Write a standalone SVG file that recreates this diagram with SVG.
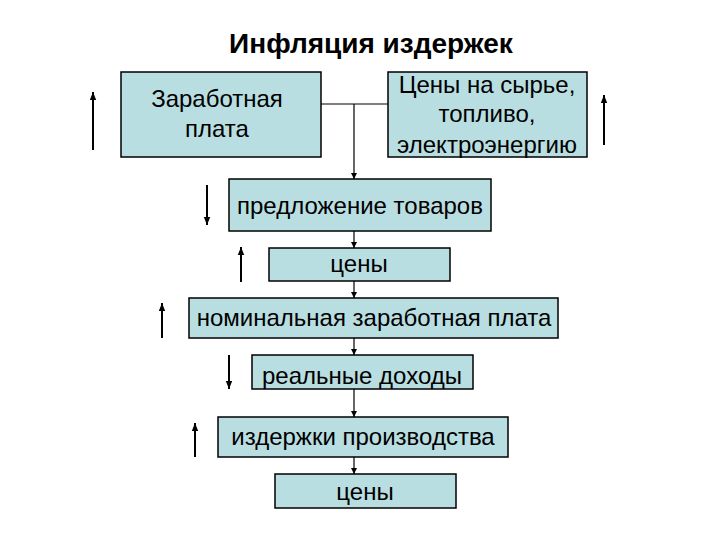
<svg xmlns="http://www.w3.org/2000/svg" width="720" height="540" viewBox="0 0 720 540">
<defs>
<marker id="ah" viewBox="0 0 10 10" refX="10" refY="5" markerWidth="6" markerHeight="6" markerUnits="userSpaceOnUse" orient="auto">
<path d="M0,0 L10,5 L0,10 z" fill="#000"/>
</marker>
<marker id="ah2" viewBox="0 0 10 10" refX="10" refY="5" markerWidth="8" markerHeight="8" markerUnits="userSpaceOnUse" orient="auto">
<path d="M0,1 L10,5 L0,9 z" fill="#000"/>
</marker>
</defs>
<style>
.box{fill:#b9dee1;stroke:#000;stroke-width:1.5}
.t{font-family:"Liberation Sans",Arial,sans-serif;font-size:24px;fill:#000;text-anchor:middle}
.title{font-family:"Liberation Sans",Arial,sans-serif;font-size:28px;font-weight:bold;fill:#000;text-anchor:middle}
.c{stroke:#000;stroke-width:1.2;fill:none}
.s{stroke:#000;stroke-width:2;fill:none}
</style>
<rect width="720" height="540" fill="#fff"/>
<text class="title" x="371" y="53">Инфляция издержек</text>
<g id="n1"><rect class="box" x="121" y="72" width="200" height="85"/><text class="t" x="217" y="107">Заработная</text><text class="t" x="217" y="137">плата</text></g>
<g id="n2"><rect class="box" x="388" y="72" width="199" height="85"/><text class="t" x="487" y="93">Цены на сырье,</text><text class="t" x="487" y="122">топливо,</text><text class="t" x="487" y="153">электроэнергию</text></g>
<g id="n3"><rect class="box" x="229" y="179" width="262" height="52"/><text class="t" x="360" y="214">предложение товаров</text></g>
<g id="n4"><rect class="box" x="269" y="248" width="181" height="33"/><text class="t" x="359" y="272">цены</text></g>
<g id="n5"><rect class="box" x="189" y="298" width="369" height="40"/><text class="t" x="374" y="326">номинальная заработная плата</text></g>
<g id="n6"><rect class="box" x="252" y="355" width="221" height="34"/><text class="t" x="362" y="384">реальные доходы</text></g>
<g id="n7"><rect class="box" x="218" y="417" width="290" height="40"/><text class="t" x="363" y="445">издержки производства</text></g>
<g id="n8"><rect class="box" x="275" y="474" width="181" height="34"/><text class="t" x="365" y="500">цены</text></g>
<g id="connectors">
<path class="c" d="M321,104 H388"/>
<path class="c" d="M354,104 V179" marker-end="url(#ah)"/>
<path class="c" d="M354,231 V248" marker-end="url(#ah)"/>
<path class="c" d="M354,281 V298" marker-end="url(#ah)"/>
<path class="c" d="M354,338 V355" marker-end="url(#ah)"/>
<path class="c" d="M354,389 V417" marker-end="url(#ah)"/>
<path class="c" d="M354,457 V474" marker-end="url(#ah)"/>
<path class="s" d="M93,150 V92" marker-end="url(#ah2)"/>
<path class="s" d="M604,145 V95" marker-end="url(#ah2)"/>
<path class="s" d="M207,185 V225" marker-end="url(#ah2)"/>
<path class="s" d="M241,282 V247" marker-end="url(#ah2)"/>
<path class="s" d="M162,338 V303" marker-end="url(#ah2)"/>
<path class="s" d="M229,355 V389" marker-end="url(#ah2)"/>
<path class="s" d="M195,457 V423" marker-end="url(#ah2)"/>
</g>
</svg>
